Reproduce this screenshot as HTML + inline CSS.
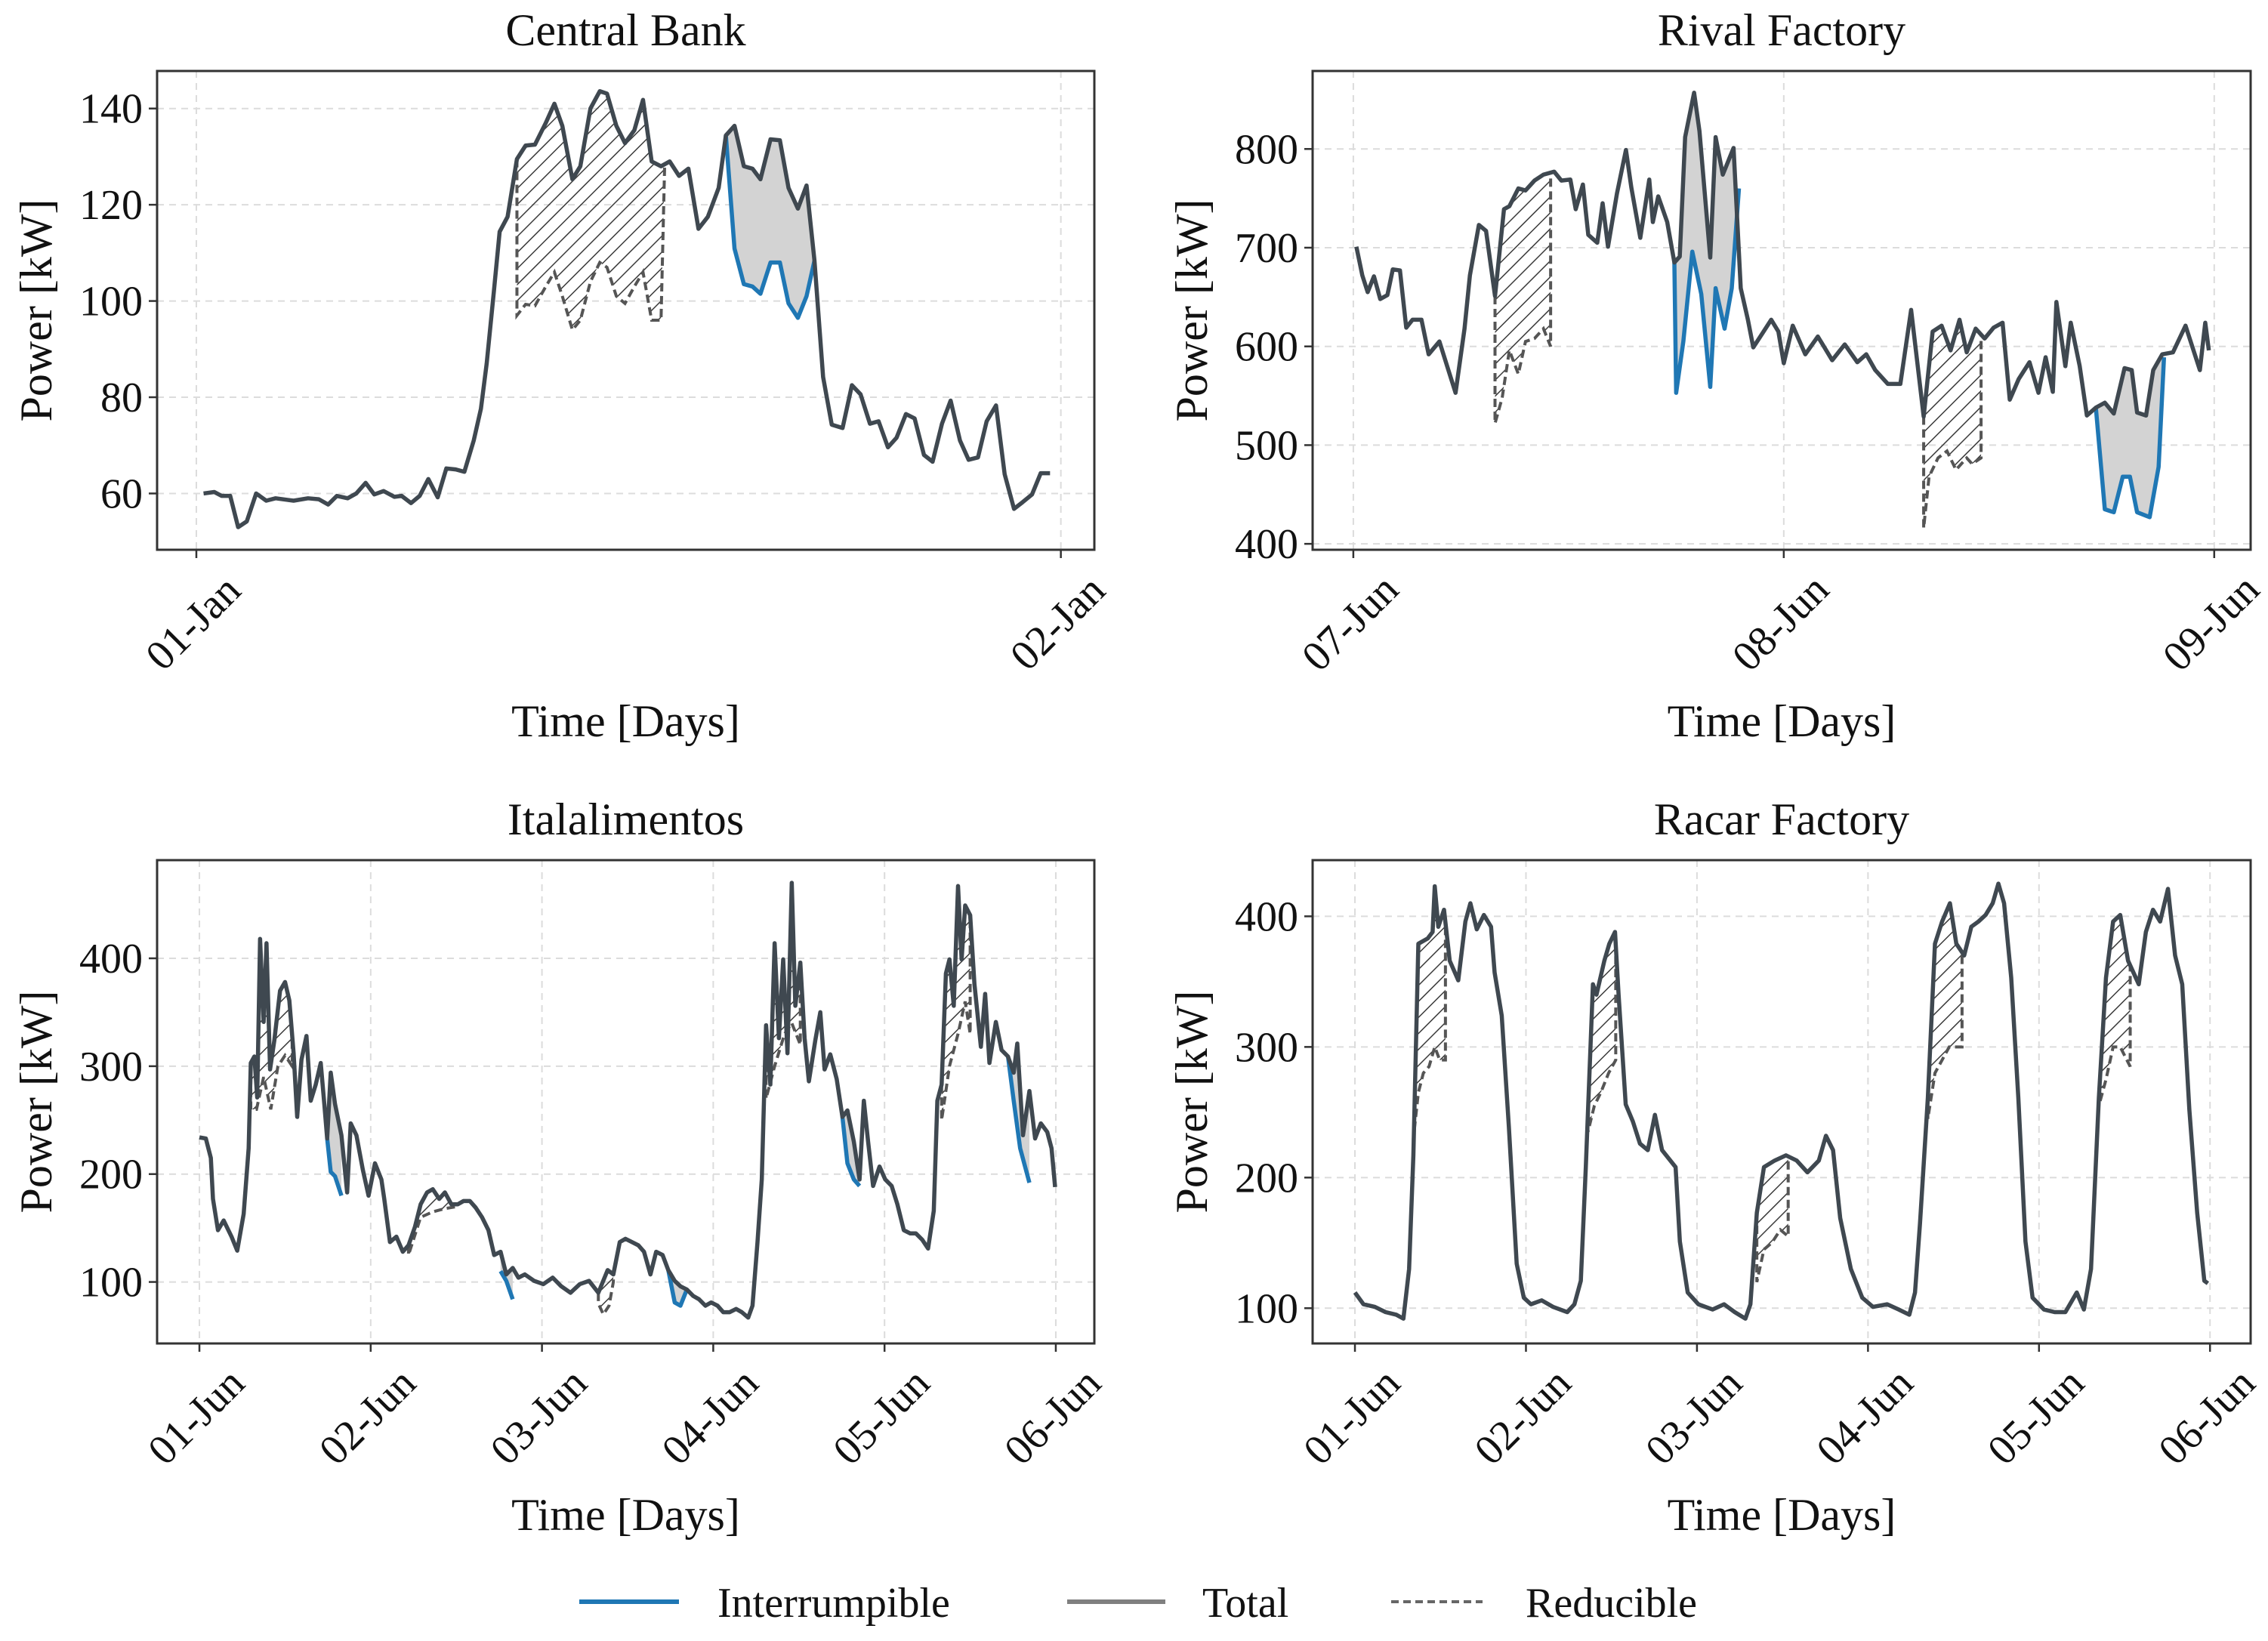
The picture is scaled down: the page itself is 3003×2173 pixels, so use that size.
<!DOCTYPE html>
<html><head><meta charset="utf-8"><style>
html,body{margin:0;padding:0;background:#fff}
svg{display:block}
text{font-family:"Liberation Serif",serif;fill:#111}
</style></head><body>
<svg id="fig" width="3003" height="2173" viewBox="0 0 3003 2173" xmlns="http://www.w3.org/2000/svg">
<defs>
<pattern id="hatch" patternUnits="userSpaceOnUse" width="15" height="15" patternTransform="rotate(45)">
<line x1="0" y1="0" x2="0" y2="15" stroke="#3a3a3a" stroke-width="3"/>
</pattern>
</defs>
<g id="root"></g>
<g>
<line x1="767" y1="2121" x2="899" y2="2121" stroke="#1f77b4" stroke-width="6"/>
<text x="950" y="2141" font-size="56">Interrumpible</text>
<line x1="1413" y1="2121" x2="1543" y2="2121" stroke="#808080" stroke-width="6"/>
<text x="1592" y="2141" font-size="56">Total</text>
<line x1="1842" y1="2121" x2="1963" y2="2121" stroke="#666" stroke-width="4" stroke-dasharray="10,6"/>
<text x="2020" y="2141" font-size="56">Reducible</text>
</g>
</svg>
<script>
// ---------- Central Bank ----------
const cbHours=[0.2,0.5,0.7,0.94,1.16,1.4,1.66,1.94,2.2,2.7,3.1,3.4,3.66,3.9,4.2,4.44,4.7,4.94,5.2,5.5,5.7,5.96,6.2,6.44,6.7,6.94,7.2,7.44,7.7,7.9,8.06,8.26,8.42,8.64,8.9,9.14,9.4,9.7,9.94,10.16,10.44,10.66,10.94,11.2,11.4,11.66,11.9,12.16,12.4,12.64,12.9,13.14,13.4,13.66,13.94,14.2,14.5,14.7,14.94,15.2,15.44,15.66,15.94,16.2,16.44,16.7,16.94,17.16,17.4,17.64,17.94,18.2,18.44,18.7,18.94,19.2,19.44,19.7,19.94,20.2,20.44,20.7,20.94,21.2,21.44,21.7,21.94,22.2,22.44,22.7,22.94,23.2,23.44,23.7];
const cbTotal=[60,60.3,59.5,59.5,53,54.2,60,58.5,59,58.5,59,58.8,57.7,59.5,59,60,62.2,59.8,60.5,59.3,59.5,58,59.5,63,59.2,65.2,65,64.5,71,77.6,87,102,114.4,117.5,129.5,132.3,132.5,137,141,136.4,125.3,128,140,143.6,143.1,136.4,132.8,135.5,141.8,129,128,129,126,127.5,115,117.5,123.5,134.4,136.4,128,127.5,125.3,133.6,133.4,123.5,119.2,124,108.4,84.2,74.3,73.6,82.5,80.6,74.5,75,69.6,71.6,76.5,75.6,68,66.6,74.5,79.3,71,67,67.5,75,78.3,64,56.8,58.2,59.8,64.2,64.2];
const cbRedHours=[[8.9,9.14,9.4,9.7,9.94,10.16,10.44,10.66,10.94,11.2,11.4,11.66,11.9,12.16,12.4,12.64,12.9,13.0]];
const cbRedVals=[[97,99.3,99,103,106,101,94,96,104,108,107,101,99.5,103,106,96,96,128]];
const cbIntHours=[[14.7,14.94,15.2,15.44,15.66,15.94,16.2,16.44,16.7,16.94,17.16]];
const cbIntVals=[[134.4,110.9,103.5,103,101.5,108,108,99.5,96.5,101,108.4]];
const cbYTicks=[60,80,100,120,140];
const cbXTicks=[0,24];
const cbXLabels=["01-Jan","02-Jan"];

// ---------- Rival Factory ----------
const rfHours=[0.17,0.5,0.8,1.15,1.5,1.9,2.2,2.6,2.95,3.3,3.8,4.2,4.8,5.3,5.7,6.2,6.5,7.0,7.4,7.9,8.4,8.7,9.2,9.6,10.1,10.6,11.2,11.6,12.1,12.4,12.8,13.1,13.6,13.9,14.2,14.7,15.2,15.5,16.0,16.5,16.7,17.0,17.5,17.9,18.2,18.5,19.0,19.3,19.9,20.2,20.6,21.2,21.6,22.0,22.3,22.8,23.3,23.7,24.0,24.5,25.2,25.9,26.7,27.4,28.1,28.6,29.1,29.8,30.5,31.1,31.8,32.3,32.8,33.3,33.8,34.2,34.7,35.2,35.7,36.2,36.6,37.1,37.7,38.2,38.6,39.0,39.2,39.7,40.0,40.5,40.9,41.4,41.9,42.4,43.0,43.4,43.7,44.2,44.6,45.1,45.7,46.4,47.2,47.5,47.7];
const rfTotal=[701,672,655,671,648,652,678,677,619,627,627,592,605,576,553,618,672,723,717,651,739,742,760,758,768,774,777,768,769,739,764,713,705,745,701,755,799,761,710,769,726,752,726,685,691,812,857,818,690,812,774,801,659,627,599,613,627,615,583,621,592,610,586,602,584,592,576,562,562,637,529,615,621,596,627,594,618,608,619,624,546,567,584,553,589,554,645,580,624,580,530,538,543,532,578,576,533,530,576,592,594,621,576,624,596];
const rfRedHours=[[7.9,8.3,8.7,9.2,9.6,10.1,10.6,11.0],[31.8,32.1,32.6,33.1,33.6,34.2,34.5,35.0]];
const rfRedVals=[[522,548,596,572,605,608,618,600],[416,468,487,494,475,487,481,487]];
const rfIntHours=[[17.9,18.0,18.4,18.9,19.4,19.9,20.2,20.7,21.1,21.5],[41.4,41.9,42.4,42.9,43.3,43.7,44.4,44.9,45.2]];
const rfIntVals=[[685,553,605,696,653,559,659,618,659,760],[538,435,432,468,468,432,427,478,589]];
const rfYTicks=[400,500,600,700,800];
const rfXTicks=[0,24,48];
const rfXLabels=["07-Jun","08-Jun","09-Jun"];

// ---------- Italalimentos ----------
const itHours=[0,0.9,1.6,1.9,2.6,3.4,4.5,5.3,6.2,6.9,7.2,7.7,8.1,8.5,9.0,9.4,9.9,10.5,11.3,12.0,12.6,13.2,13.7,14.3,15.0,15.6,16.3,17.0,17.5,17.9,18.4,19.0,19.9,20.7,21.2,22.0,22.9,23.7,24.6,25.5,25.9,26.7,27.6,28.5,29.3,30.2,31.0,31.9,32.7,33.6,34.4,35.3,36.2,37.0,37.9,38.7,39.6,40.5,41.3,42.2,43.0,43.9,44.7,45.6,46.9,48.2,49.5,50.7,52.0,53.3,54.6,55.9,57.2,58.0,58.9,59.7,60.6,61.5,62.3,63.2,64.0,64.9,65.7,66.6,67.4,68.3,69.2,70.0,70.9,71.7,72.6,73.4,74.3,75.2,76.0,76.9,77.5,78.2,78.8,79.4,80.0,80.6,81.2,81.8,82.4,83.0,83.5,84.2,84.8,85.4,86.3,87.0,87.6,88.4,89.3,90.1,90.8,91.7,92.5,93.1,93.7,94.4,95.3,96.1,97.0,97.8,98.7,99.6,100.4,101.3,102.1,102.9,103.4,104.0,104.6,105.1,105.7,106.3,106.8,107.3,108.0,108.6,109.5,110.1,110.7,111.6,112.4,113.3,114.1,114.6,115.4,116.3,117.1,117.9,118.8,119.4,119.9];
const itTotal=[234,233,215,177,148,157,142,129,163,224,303,309,271,418,341,414,297,324,370,378,361,312,253,306,328,268,283,303,265,233,294,265,236,183,247,236,204,180,210,195,177,137,142,128,134,151,172,183,186,177,183,172,172,175,175,169,160,148,125,128,107,113,104,107,101,98,104,96,90,98,101,90,111,107,137,140,137,134,128,107,128,125,111,101,96,93,87,84,78,81,78,72,72,75,72,67,78,137,195,338,283,414,326,399,312,470,356,396,326,286,324,350,297,311,288,253,259,230,195,268,230,189,207,195,189,172,148,145,145,139,131,166,268,283,386,399,356,467,399,449,440,376,318,367,303,341,315,309,294,321,236,277,233,247,239,224,188];
const itRedHours=[[7.2,8.0,9.0,10.0,11.0,12.0,13.0],[29.3,31.0,32.7,34.4,36.2],[55.9,56.6,57.4,58.0],[79.4,80.6,82.0,83.0,84.2],[104.0,105.1,106.3,107.3,108.0]];
const itRedVals=[[260,260,290,260,300,310,300],[125,160,165,168,170],[80,70,78,100],[270,300,330,340,320],[250,300,330,360,330]];
const itIntHours=[[17.9,18.4,19.0,19.9],[42.2,43.0,43.9],[65.7,66.6,67.4,68.3],[90.1,90.8,91.7,92.5],[113.3,114.1,115.0,116.3]];
const itIntVals=[[233,202,198,180],[110,101,84],[111,81,78,93],[253,210,195,189],[309,268,224,192]];
const itYTicks=[100,200,300,400];
const itXTicks=[0,24,48,72,96,120];
const itXLabels=["01-Jun","02-Jun","03-Jun","04-Jun","05-Jun","06-Jun"];

// ---------- Racar Factory ----------
const rcHours=[0,1.2,2.8,4.3,5.8,6.8,7.6,8.2,8.9,10.2,10.9,11.2,11.7,12.5,13.3,14.5,15.5,16.2,17.1,18.1,19.1,19.6,20.6,21.6,22.7,23.7,24.7,26.2,27.8,29.8,30.8,31.7,32.4,33.4,33.9,35.0,35.7,36.5,37.0,38.0,39.0,40.0,41.1,42.1,43.1,45.0,45.6,46.7,48.2,50.2,51.8,53.3,54.8,55.5,56.4,57.4,58.9,60.5,62.0,63.5,65.1,66.1,67.1,68.1,69.6,71.2,72.7,74.7,76.3,77.8,78.6,79.3,80.4,81.4,82.4,83.5,84.4,85.5,86.5,87.5,88.5,89.5,90.3,91.1,92.1,93.1,94.1,95.1,96.7,98.2,99.7,101.3,102.3,103.3,104.4,105.4,106.4,107.4,108.5,110.0,111.0,112.0,113.0,114.1,115.1,116.1,117.1,118.2,119.2,119.7];
const rcTotal=[112,103,101,97,95,92,130,217,379,383,388,423,392,405,366,351,396,410,390,401,392,357,324,239,134,108,103,106,101,97,103,121,208,348,340,366,379,388,340,256,243,226,221,248,221,208,151,112,103,99,103,97,92,103,173,208,213,217,213,204,213,232,221,169,130,108,101,103,99,95,112,165,261,379,396,410,379,370,392,396,401,410,425,410,353,261,151,108,99,97,97,112,99,130,261,353,396,401,366,348,388,405,396,421,370,348,252,173,121,119];
const rcRedHours=[[8.2,8.9,9.6,10.4,11.2,11.9,12.7],[32.7,33.6,34.5,35.6,36.6],[56.4,57.4,58.5,59.7,60.8],[80.4,81.4,82.4,83.4,84.5,85.2],[104.4,105.4,106.4,107.4,108.8]];
const rcRedVals=[[230,265,280,285,300,290,290],[235,255,265,280,290],[120,145,150,160,155],[245,280,290,300,300,300],[255,275,300,300,285]];
const rcIntHours=[];
const rcIntVals=[];
const rcYTicks=[100,200,300,400];
const rcXTicks=[0,24,48,72,96,120];
const rcXLabels=["01-Jun","02-Jun","03-Jun","04-Jun","05-Jun","06-Jun"];

const panels=[
 {key:"central-bank",title:"Central Bank",L:208,R:1449,T:94,B:728,xmin:-1.09,xmax:24.93,ymin:48.3,ymax:147.8,
  h:cbHours,v:cbTotal,rh:cbRedHours,rv:cbRedVals,ih:cbIntHours,iv:cbIntVals,yt:cbYTicks,xt:cbXTicks,xl:cbXLabels},
 {key:"rival-factory",title:"Rival Factory",L:1738,R:2980,T:94,B:728,xmin:-2.27,xmax:50.03,ymin:394,ymax:879,
  h:rfHours,v:rfTotal,rh:rfRedHours,rv:rfRedVals,ih:rfIntHours,iv:rfIntVals,yt:rfYTicks,xt:rfXTicks,xl:rfXLabels},
 {key:"italalimentos",title:"Italalimentos",L:208,R:1449,T:1139,B:1779,xmin:-5.93,xmax:125.4,ymin:43,ymax:491,
  h:itHours,v:itTotal,rh:itRedHours,rv:itRedVals,ih:itIntHours,iv:itIntVals,yt:itYTicks,xt:itXTicks,xl:itXLabels},
 {key:"racar-factory",title:"Racar Factory",L:1738,R:2980,T:1139,B:1779,xmin:-5.94,xmax:125.7,ymin:73,ymax:443,
  h:rcHours,v:rcTotal,rh:rcRedHours,rv:rcRedVals,ih:rcIntHours,iv:rcIntVals,yt:rcYTicks,xt:rcXTicks,xl:rcXLabels}
];

const NS="http://www.w3.org/2000/svg";
const root=document.getElementById("root");
function mk(tag,attrs,parent){const e=document.createElementNS(NS,tag);for(const k in attrs)e.setAttribute(k,attrs[k]);parent.appendChild(e);return e;}
function interp(hs,vs,t){if(t<=hs[0])return vs[0];for(let i=1;i<hs.length;i++){if(t<=hs[i]){const f=(t-hs[i-1])/(hs[i]-hs[i-1]);return vs[i-1]+f*(vs[i]-vs[i-1]);}}return vs[vs.length-1];}

panels.forEach(p=>{
 const g=mk("g",{},root);
 
 
 const X=t=>p.L+(t-p.xmin)/(p.xmax-p.xmin)*(p.R-p.L);
 const Y=v=>p.B-(v-p.ymin)/(p.ymax-p.ymin)*(p.B-p.T);
 p.yt.forEach(v=>{const l=mk("line",{x1:p.L,x2:p.R,y1:Y(v),y2:Y(v),stroke:"#dcdcdc","stroke-width":2,"stroke-dasharray":"9,7"},g);
  
  });
 p.xt.forEach(t=>{const l=mk("line",{x1:X(t),x2:X(t),y1:p.T,y2:p.B,stroke:"#dcdcdc","stroke-width":2,"stroke-dasharray":"9,7"},g);
  
  });
 p.rh.forEach((hs,k)=>{
  const vs=p.rv[k];let pts=[];
  const t0=hs[0],t1=hs[hs.length-1];
  pts.push([X(t0),Y(interp(p.h,p.v,t0))]);
  p.h.forEach((t,i)=>{if(t>t0&&t<t1)pts.push([X(t),Y(p.v[i])]);});
  pts.push([X(t1),Y(interp(p.h,p.v,t1))]);
  for(let i=hs.length-1;i>=0;i--)pts.push([X(hs[i]),Y(vs[i])]);
  const poly=mk("polygon",{points:pts.map(a=>a.join(",")).join(" "),fill:"url(#hatch)",stroke:"none"},g);
  
  
  const d=hs.map((t,i)=>(i?"L":"M")+X(t)+","+Y(vs[i])).join("");
  const dl=mk("path",{d:"M"+X(t0)+","+Y(interp(p.h,p.v,t0))+d.replace("M","L")+"L"+X(t1)+","+Y(interp(p.h,p.v,t1)),fill:"none",stroke:"#555","stroke-width":4,"stroke-dasharray":"11,6"},g);
  
  
 });
 p.ih.forEach((hs,k)=>{
  const vs=p.iv[k];let pts=[];
  const t0=hs[0],t1=hs[hs.length-1];
  pts.push([X(t0),Y(interp(p.h,p.v,t0))]);
  p.h.forEach((t,i)=>{if(t>t0&&t<t1)pts.push([X(t),Y(p.v[i])]);});
  pts.push([X(t1),Y(interp(p.h,p.v,t1))]);
  for(let i=hs.length-1;i>=0;i--)pts.push([X(hs[i]),Y(vs[i])]);
  const poly=mk("polygon",{points:pts.map(a=>a.join(",")).join(" "),fill:"#d3d3d3",stroke:"none"},g);
  
  
  const il=mk("path",{d:hs.map((t,i)=>(i?"L":"M")+X(t)+","+Y(vs[i])).join(""),fill:"none",stroke:"#1f77b4","stroke-width":5.5,"stroke-linejoin":"round"},g);
  
  
 });
 const tl=mk("path",{d:p.h.map((t,i)=>(i?"L":"M")+X(t)+","+Y(p.v[i])).join(""),fill:"none",stroke:"#3f4850","stroke-width":5.5,"stroke-linejoin":"round"},g);
 
 
 const fr=mk("rect",{x:p.L,y:p.T,width:p.R-p.L,height:p.B-p.T,fill:"none",stroke:"#333","stroke-width":3},g);
 
 
 p.yt.forEach(v=>{
  const tk=mk("line",{x1:p.L-11,x2:p.L,y1:Y(v),y2:Y(v),stroke:"#333","stroke-width":2.5},g);
  
  
  const tx=mk("text",{x:p.L-19,y:Y(v)+19,"text-anchor":"end","font-size":56},g);
  tx.textContent=v;
  
  
 });
 p.xt.forEach((t,i)=>{
  const tk=mk("line",{x1:X(t),x2:X(t),y1:p.B,y2:p.B+11,stroke:"#333","stroke-width":2.5},g);
  
  
  const cx=X(t)-4,cy=p.B+97;
  const tx=mk("text",{x:cx,y:cy+18,"text-anchor":"middle","font-size":56,transform:"rotate(-45 "+cx+" "+cy+")"},g);
  tx.textContent=p.xl[i];
  
  
 });
 const cxm=(p.L+p.R)/2;
 const ti=mk("text",{x:cxm,y:p.T-34,"text-anchor":"middle","font-size":60},g);
 ti.textContent=p.title;
 
 
 const xl=mk("text",{x:cxm,y:p.B+247,"text-anchor":"middle","font-size":60},g);
 xl.textContent="Time [Days]";
 
 
 const ly=(p.T+p.B)/2, lx=p.L-140;
 const yl=mk("text",{x:lx,y:ly,"text-anchor":"middle","font-size":60,transform:"rotate(-90 "+lx+" "+ly+")"},g);
 yl.textContent="Power [kW]";
 
 
});
</script>
</body></html>
